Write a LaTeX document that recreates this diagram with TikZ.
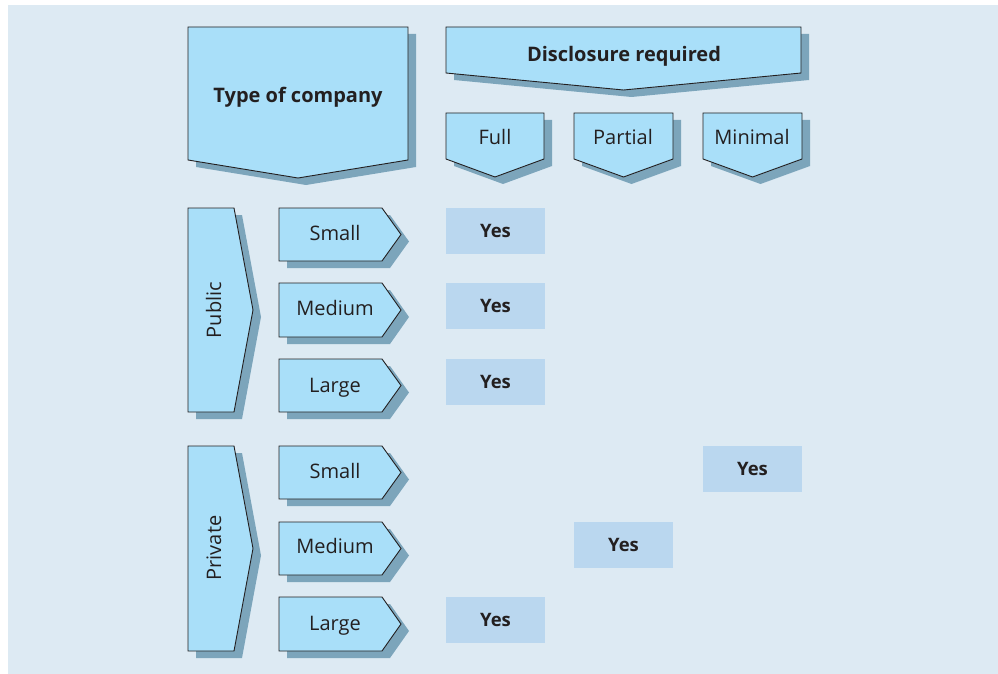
\documentclass[tikz,border=0pt]{standalone}
\usepackage{fontspec}
\setmainfont{Open Sans}
\definecolor{bgc}{HTML}{DDEAF3}
\definecolor{shapec}{HTML}{A9DFF9}
\definecolor{shadc}{HTML}{7CA5BB}
\definecolor{yesc}{HTML}{BAD7EF}
\definecolor{linec}{HTML}{231F20}
\tikzset{
  shp/.style={fill=shapec,draw=linec,line width=0.9pt,line join=miter},
  shd/.style={fill=shadc,draw=none},
  lbl/.style={font=\fontsize{20}{24}\selectfont,text=linec,inner sep=0pt,anchor=base},
  hdr/.style={font=\fontsize{20}{24}\selectfont\bfseries,text=linec,inner sep=0pt,anchor=base},
  yesbox/.style={fill=yesc,draw=none,inner sep=0pt},
  yestxt/.style={font=\fontsize{18.5}{22}\selectfont\bfseries,text=linec,inner sep=0pt,anchor=base}
}
% pentagon pointing down: x1, x2, ytop, yside, ytip
\newcommand{\pentdown}[5]{%
  \fill[shd,shift={(8,7)}] (#1,#3) -- (#2,#3) -- (#2,#4) -- ({(#1+#2)/2},#5) -- (#1,#4) -- cycle;
  \draw[shp] (#1,#3) -- (#2,#3) -- (#2,#4) -- ({(#1+#2)/2},#5) -- (#1,#4) -- cycle;}
% pentagon pointing right: x1, xside, xtip, ytop, ybot
\newcommand{\pentright}[5]{%
  \fill[shd,shift={(8,7)}] (#1,#4) -- (#2,#4) -- (#3,{(#4+#5)/2}) -- (#2,#5) -- (#1,#5) -- cycle;
  \draw[shp] (#1,#4) -- (#2,#4) -- (#3,{(#4+#5)/2}) -- (#2,#5) -- (#1,#5) -- cycle;}
\newcommand{\yescell}[4]{% name, x1, y1, baseline
  \fill[yesc] (#2,#3) rectangle ++(99,46);
  \node[yestxt] (#1) at ({#2+49.5},#4) {Yes};}
\begin{document}
\begin{tikzpicture}[x=1pt,y=-1pt]
\useasboundingbox (0,0) rectangle (998,674);
\fill[bgc] (8,5) rectangle (998,674);
% headers
\pentdown{188}{408}{27}{160}{178}
\node[hdr] (type) at (298,103) {Type of company};
\pentdown{446}{801}{27}{73}{90}
\node[hdr] (disc) at (624,62) {Disclosure required};
\pentdown{446}{544}{113}{159}{177}
\node[lbl] (full) at (495,145) {Full};
\pentdown{574}{673}{113}{159}{177}
\node[lbl] (partial) at (623,145) {Partial};
\pentdown{703}{802}{113}{159}{177}
\node[lbl] (minimal) at (752,145) {Minimal};
% public
\pentright{188}{234}{253}{208}{412}
\node[lbl,rotate=90] (public) at (221,310) {Public};
\pentright{279}{382}{401}{208}{261}
\node[lbl] (pubsmall) at (335,240) {Small};
\pentright{279}{382}{401}{283}{337}
\node[lbl] (pubmed) at (335,315) {Medium};
\pentright{279}{382}{401}{359}{412}
\node[lbl] (publarge) at (335,392) {Large};
% private
\pentright{188}{234}{253}{446}{651}
\node[lbl,rotate=90] (private) at (221,548) {Private};
\pentright{279}{382}{401}{446}{499}
\node[lbl] (privsmall) at (335,478) {Small};
\pentright{279}{382}{401}{522}{575}
\node[lbl] (privmed) at (335,553) {Medium};
\pentright{279}{382}{401}{597}{651}
\node[lbl] (privlarge) at (335,630) {Large};
% yes boxes
\yescell{y1}{446}{208}{237}
\yescell{y2}{446}{283}{312}
\yescell{y3}{446}{359}{388}
\yescell{y4}{703}{446}{475}
\yescell{y5}{574}{522}{551}
\yescell{y6}{446}{597}{626}
\end{tikzpicture}
\end{document}
